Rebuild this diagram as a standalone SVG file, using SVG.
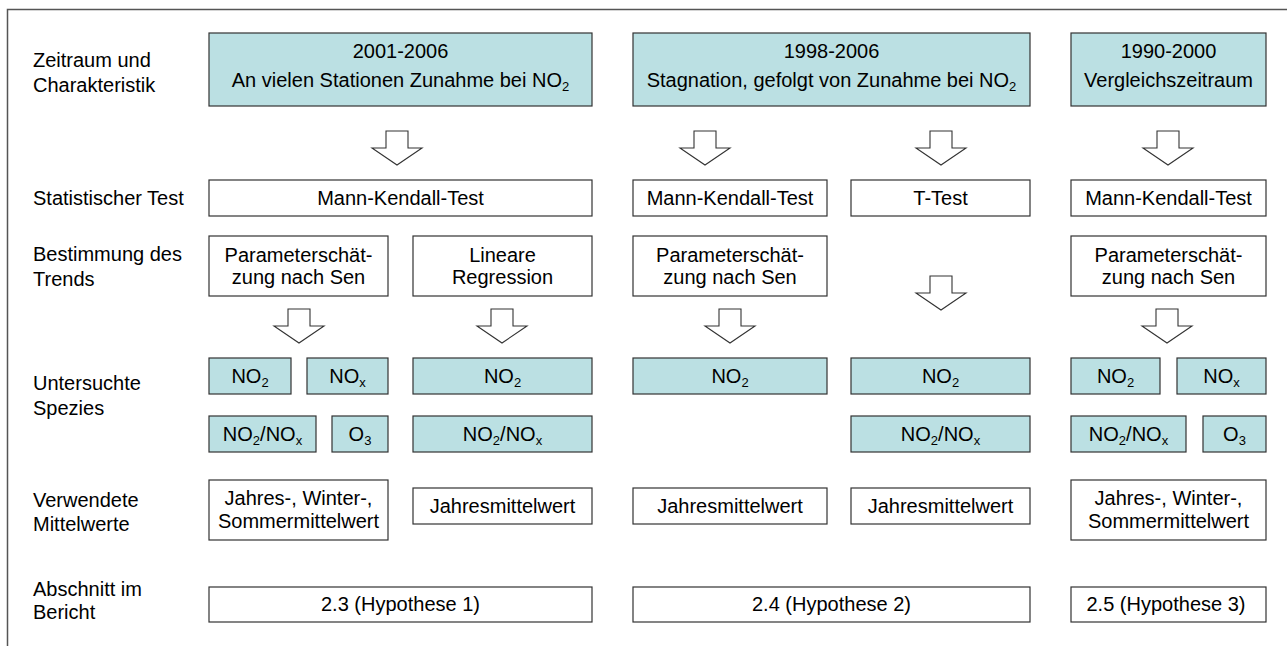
<svg xmlns="http://www.w3.org/2000/svg" width="1287" height="646" viewBox="0 0 1287 646">
<defs>
<style>
text{font-family:"Liberation Sans",Arial,sans-serif;font-size:20px;fill:#000}
.c{text-anchor:middle}
.sub{font-size:13px}
.box{fill:#fff;stroke:#333;stroke-width:1.2}
.hl{fill:#BBE0E3;stroke:#333;stroke-width:1.2}
.arr{fill:#fff;stroke:#333;stroke-width:1.1;stroke-linejoin:miter}
</style>
<polygon id="ba" points="-11,0 11,0 11,17 25,17 0,34 -25,17 -11,17"/>
</defs>
<rect width="1287" height="646" fill="#fff"/>
<path d="M7.5,646 V9.5 H1287" fill="none" stroke="#555" stroke-width="1.5"/>

<g id="labels">
<text x="33" y="67">Zeitraum und</text>
<text x="33" y="92">Charakteristik</text>
<text x="33" y="205">Statistischer Test</text>
<text x="33" y="261">Bestimmung des</text>
<text x="33" y="286">Trends</text>
<text x="33" y="390">Untersuchte</text>
<text x="33" y="415">Spezies</text>
<text x="33" y="507">Verwendete</text>
<text x="33" y="531">Mittelwerte</text>
<text x="33" y="596">Abschnitt im</text>
<text x="33" y="619">Bericht</text>
</g>

<g id="connectors">
<use href="#ba" class="arr" x="397" y="131"/>
<use href="#ba" class="arr" x="705" y="131"/>
<use href="#ba" class="arr" x="941" y="131"/>
<use href="#ba" class="arr" x="1168" y="131"/>
<use href="#ba" class="arr" x="299" y="309"/>
<use href="#ba" class="arr" x="502" y="309"/>
<use href="#ba" class="arr" x="730" y="309"/>
<use href="#ba" class="arr" x="941" y="276"/>
<use href="#ba" class="arr" x="1167" y="309"/>
</g>

<g id="top_a"><rect class="hl" x="209" y="33" width="383" height="73"/>
<text class="c" x="400.5" y="58">2001-2006</text>
<text class="c" x="400.5" y="87">An vielen Stationen Zunahme bei NO<tspan class="sub" dy="4">2</tspan></text></g>
<g id="top_b"><rect class="hl" x="633" y="33" width="397" height="73"/>
<text class="c" x="831.5" y="58">1998-2006</text>
<text class="c" x="831.5" y="87">Stagnation, gefolgt von Zunahme bei NO<tspan class="sub" dy="4">2</tspan></text></g>
<g id="top_c"><rect class="hl" x="1071" y="33" width="195" height="73"/>
<text class="c" x="1168.5" y="58">1990-2000</text>
<text class="c" x="1168.5" y="87">Vergleichszeitraum</text></g>

<g id="mk_a"><rect class="box" x="209" y="180" width="383" height="36"/><text class="c" x="400.5" y="205">Mann-Kendall-Test</text></g>
<g id="mk_b"><rect class="box" x="633" y="180" width="194" height="36"/><text class="c" x="730" y="205">Mann-Kendall-Test</text></g>
<g id="t_b"><rect class="box" x="851" y="180" width="179" height="36"/><text class="c" x="940.5" y="205">T-Test</text></g>
<g id="mk_c"><rect class="box" x="1071" y="180" width="195" height="36"/><text class="c" x="1168.5" y="205">Mann-Kendall-Test</text></g>

<g id="param_a"><rect class="box" x="209" y="236" width="179" height="60"/><text class="c" x="298.5" y="262">Parameterschät-</text><text class="c" x="298.5" y="284">zung nach Sen</text></g>
<g id="linreg_a"><rect class="box" x="413" y="236" width="179" height="60"/><text class="c" x="502.5" y="262">Lineare</text><text class="c" x="502.5" y="284">Regression</text></g>
<g id="param_b"><rect class="box" x="633" y="236" width="194" height="60"/><text class="c" x="730" y="262">Parameterschät-</text><text class="c" x="730" y="284">zung nach Sen</text></g>
<g id="param_c"><rect class="box" x="1071" y="236" width="195" height="60"/><text class="c" x="1168.5" y="262">Parameterschät-</text><text class="c" x="1168.5" y="284">zung nach Sen</text></g>

<g id="no2_a1"><rect class="hl" x="209" y="358" width="82" height="36"/><text class="c" x="250" y="383">NO<tspan class="sub" dy="4">2</tspan></text></g>
<g id="nox_a1"><rect class="hl" x="307" y="358" width="81" height="36"/><text class="c" x="347.5" y="383">NO<tspan class="sub" dy="4">x</tspan></text></g>
<g id="no2nox_a1"><rect class="hl" x="209" y="416" width="107" height="36"/><text class="c" x="262.5" y="441">NO<tspan class="sub" dy="4">2</tspan><tspan dy="-4">/NO</tspan><tspan class="sub" dy="4">x</tspan></text></g>
<g id="o3_a1"><rect class="hl" x="332" y="416" width="56" height="36"/><text class="c" x="360" y="441">O<tspan class="sub" dy="4">3</tspan></text></g>
<g id="no2_a2"><rect class="hl" x="413" y="358" width="179" height="36"/><text class="c" x="502.5" y="383">NO<tspan class="sub" dy="4">2</tspan></text></g>
<g id="no2nox_a2"><rect class="hl" x="413" y="416" width="179" height="36"/><text class="c" x="502.5" y="441">NO<tspan class="sub" dy="4">2</tspan><tspan dy="-4">/NO</tspan><tspan class="sub" dy="4">x</tspan></text></g>
<g id="no2_b1"><rect class="hl" x="633" y="358" width="194" height="36"/><text class="c" x="730" y="383">NO<tspan class="sub" dy="4">2</tspan></text></g>
<g id="no2_b2"><rect class="hl" x="851" y="358" width="179" height="36"/><text class="c" x="940.5" y="383">NO<tspan class="sub" dy="4">2</tspan></text></g>
<g id="no2nox_b2"><rect class="hl" x="851" y="416" width="179" height="36"/><text class="c" x="940.5" y="441">NO<tspan class="sub" dy="4">2</tspan><tspan dy="-4">/NO</tspan><tspan class="sub" dy="4">x</tspan></text></g>
<g id="no2_c"><rect class="hl" x="1071" y="358" width="89" height="36"/><text class="c" x="1115.5" y="383">NO<tspan class="sub" dy="4">2</tspan></text></g>
<g id="nox_c"><rect class="hl" x="1177" y="358" width="89" height="36"/><text class="c" x="1221.5" y="383">NO<tspan class="sub" dy="4">x</tspan></text></g>
<g id="no2nox_c"><rect class="hl" x="1071" y="416" width="115" height="36"/><text class="c" x="1128.5" y="441">NO<tspan class="sub" dy="4">2</tspan><tspan dy="-4">/NO</tspan><tspan class="sub" dy="4">x</tspan></text></g>
<g id="o3_c"><rect class="hl" x="1203" y="416" width="63" height="36"/><text class="c" x="1234.5" y="441">O<tspan class="sub" dy="4">3</tspan></text></g>

<g id="mw_a1"><rect class="box" x="209" y="480" width="179" height="60"/><text class="c" x="298.5" y="505">Jahres-, Winter-,</text><text class="c" x="298.5" y="528">Sommermittelwert</text></g>
<g id="mw_a2"><rect class="box" x="413" y="488" width="179" height="36"/><text class="c" x="502.5" y="513">Jahresmittelwert</text></g>
<g id="mw_b1"><rect class="box" x="633" y="488" width="194" height="36"/><text class="c" x="730" y="513">Jahresmittelwert</text></g>
<g id="mw_b2"><rect class="box" x="851" y="488" width="179" height="36"/><text class="c" x="940.5" y="513">Jahresmittelwert</text></g>
<g id="mw_c"><rect class="box" x="1071" y="480" width="195" height="60"/><text class="c" x="1168.5" y="505">Jahres-, Winter-,</text><text class="c" x="1168.5" y="528">Sommermittelwert</text></g>

<g id="sec_a"><rect class="box" x="209" y="587" width="383" height="35"/><text class="c" x="400.5" y="611">2.3 (Hypothese 1)</text></g>
<g id="sec_b"><rect class="box" x="633" y="587" width="397" height="35"/><text class="c" x="831.5" y="611">2.4 (Hypothese 2)</text></g>
<g id="sec_c"><rect class="box" x="1071" y="587" width="195" height="35"/><text class="c" x="1166" y="611">2.5 (Hypothese 3)</text></g>
</svg>
